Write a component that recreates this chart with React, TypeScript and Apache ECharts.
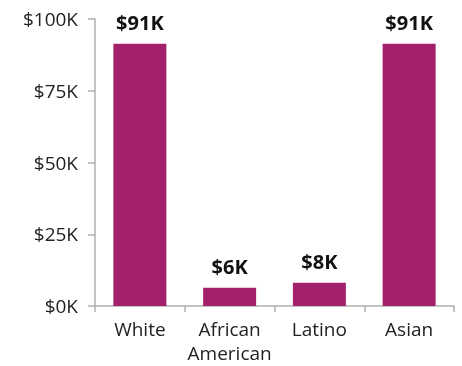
import React, { useEffect, useRef } from "react";
import * as echarts from "echarts";

const categories = ["White", "African\nAmerican", "Latino", "Asian"];
const values = [91.4, 6.4, 8.1, 91.4];
const barLabels = ["$91K", "$6K", "$8K", "$91K"];
const yTicks = [0, 25, 50, 75, 100];

export default function App() {
  const ref = useRef<HTMLDivElement>(null);
  useEffect(() => {
    const chart = echarts.init(ref.current!, null, { renderer: "svg" });
    chart.setOption({
      animation: false,
      grid: { left: 95, right: 8, top: 19, bottom: 60 },
      xAxis: {
        type: "category",
        data: categories,
        axisLine: { lineStyle: { color: "#b0b0b0", width: 1.5 } },
        axisTick: { show: true, length: 6, lineStyle: { color: "#b0b0b0", width: 1.5 } },
        axisLabel: {
          interval: 0,
          fontFamily: "Open Sans",
          fontSize: 19,
          lineHeight: 24,
          color: "#222",
          margin: 11,
        },
      },
      yAxis: {
        type: "value",
        min: 0,
        max: 100,
        interval: 25,
        splitLine: { show: false },
        axisLine: { show: true, lineStyle: { color: "#b0b0b0", width: 1.5 } },
        axisTick: { show: true, length: 7, lineStyle: { color: "#b0b0b0", width: 1.5 } },
        axisLabel: {
          fontFamily: "Open Sans",
          fontSize: 19,
          color: "#222",
          margin: 17,
          formatter: (v: number) => (yTicks.includes(v) ? `$${v}K` : ""),
        },
      },
      series: [
        {
          type: "bar",
          data: values,
          barWidth: 53,
          itemStyle: { color: "#A3206A" },
          label: {
            show: true,
            position: "top",
            distance: 11,
            fontFamily: "Open Sans",
            fontSize: 20,
            fontWeight: "bold",
            color: "#111",
            formatter: (p: any) => barLabels[p.dataIndex],
          },
        },
      ],
    });
    return () => chart.dispose();
  }, []);
  return (
    <div
      ref={ref}
      style={{ position: "fixed", left: 0, top: 0, width: 462, height: 366 }}
    />
  );
}
